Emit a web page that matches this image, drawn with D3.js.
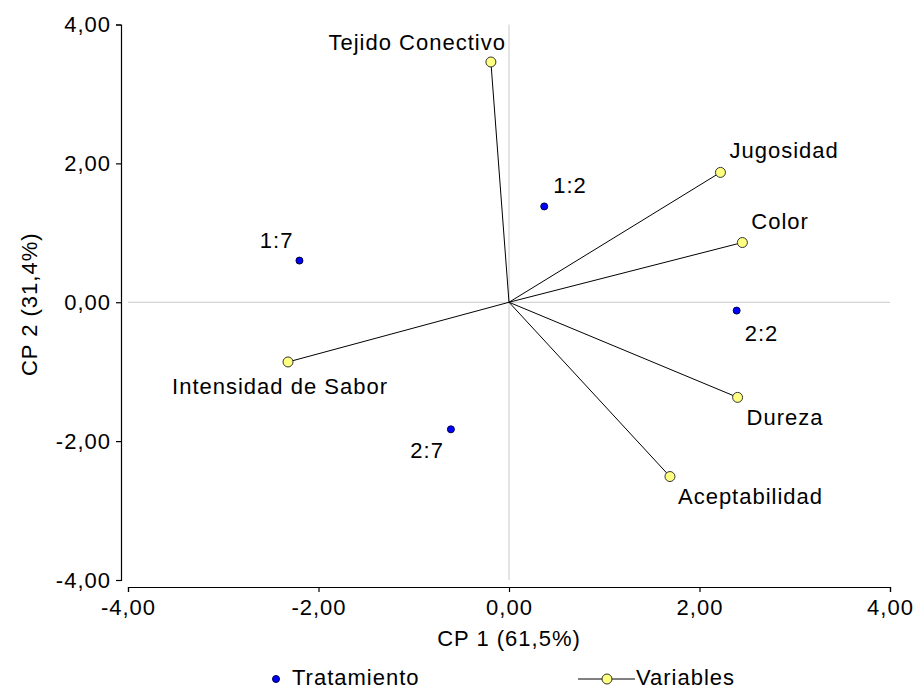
<!DOCTYPE html>
<html>
<head>
<meta charset="utf-8">
<script src="https://cdn.jsdelivr.net/npm/d3@7"></script>
<style>
  html, body { margin: 0; padding: 0; background: #fff; }
  text { font-family: "Liberation Sans", Arial, sans-serif; fill: #000; letter-spacing: 1px; }
</style>
</head>
<body>
<svg id="chart" width="916" height="690"></svg>
<script>
// Biplot: treatment scores and variable loadings on the first two components
const treatments = ["1:2", "1:7", "2:2", "2:7"];
const treatmentCP1 = [0.37, -2.20, 2.39, -0.61];
const treatmentCP2 = [1.38, 0.60, -0.12, -1.83];

const variables = ["Tejido Conectivo", "Jugosidad", "Color", "Dureza", "Aceptabilidad", "Intensidad de Sabor"];
const variableCP1 = [-0.19, 2.22, 2.45, 2.40, 1.69, -2.32];
const variableCP2 = [3.46, 1.87, 0.86, -1.37, -2.51, -0.86];

const tickValues = [-4, -2, 0, 2, 4];
const xTitle = "CP 1 (61,5%)";
const yTitle = "CP 2 (31,4%)";
const legendLabels = ["Tratamiento", "Variables"];

// label placement around each mark: [dx, dy, anchor]
const labelPlace = {
  "1:2": [9, -13, "start"],
  "1:7": [-6, -13, "end"],
  "2:2": [8, 30, "start"],
  "2:7": [-7, 29, "end"],
  "Tejido Conectivo": [15, -12, "end"],
  "Jugosidad": [9, -14, "start"],
  "Color": [9, -14, "start"],
  "Dureza": [9, 28, "start"],
  "Aceptabilidad": [8, 27, "start"],
  "Intensidad de Sabor": [-8, 32, "middle"]
};

const FS = "22px";
const svg = d3.select("#chart");
const x = d3.scaleLinear().domain([-4, 4]).range([128, 890]);
const y = d3.scaleLinear().domain([-4, 4]).range([580, 24.5]);
// decimal comma and a plain hyphen for negatives
const fmt = d => d3.format(".2f")(d).replace(".", ",").replace("\u2212", "-");

// zero reference lines
svg.append("line").attr("x1", x(0)).attr("x2", x(0)).attr("y1", y(4)).attr("y2", y(-4))
  .attr("stroke", "#c8c8c8").attr("stroke-width", 1);
svg.append("line").attr("x1", x(-4)).attr("x2", x(4)).attr("y1", y(0)).attr("y2", y(0))
  .attr("stroke", "#c8c8c8").attr("stroke-width", 1);

// axes
const xAxis = svg.append("g").attr("transform", "translate(0,587)")
  .call(d3.axisBottom(x).tickValues(tickValues).tickFormat(fmt).tickSize(5).tickPadding(7));
const yAxis = svg.append("g").attr("transform", "translate(121,0)")
  .call(d3.axisLeft(y).tickValues(tickValues).tickFormat(fmt).tickSize(5).tickPadding(5));
[xAxis, yAxis].forEach(g => {
  g.selectAll("path, line").attr("stroke", "#000").attr("stroke-width", 1.2);
  g.selectAll("text").style("font-size", FS).attr("fill", "#000");
});

svg.append("text").attr("x", x(0)).attr("y", 646).attr("text-anchor", "middle")
  .style("font-size", FS).text(xTitle);
svg.append("text").attr("transform", `translate(37,${y(0) + 2}) rotate(-90)`).attr("text-anchor", "middle")
  .style("font-size", FS).text(yTitle);

// loading vectors
const vars = variables.map((n, i) => ({ name: n, cx: variableCP1[i], cy: variableCP2[i] }));
svg.append("g").selectAll("line").data(vars).join("line")
  .attr("x1", x(0)).attr("y1", y(0))
  .attr("x2", d => x(d.cx)).attr("y2", d => y(d.cy))
  .attr("stroke", "#000").attr("stroke-width", 1);
svg.append("g").selectAll("circle").data(vars).join("circle")
  .attr("cx", d => x(d.cx)).attr("cy", d => y(d.cy)).attr("r", 5)
  .attr("fill", "#ffff80").attr("stroke", "#333").attr("stroke-width", 1);

// treatment scores
const trts = treatments.map((n, i) => ({ name: n, cx: treatmentCP1[i], cy: treatmentCP2[i] }));
svg.append("g").selectAll("circle").data(trts).join("circle")
  .attr("cx", d => x(d.cx)).attr("cy", d => y(d.cy)).attr("r", 3.5)
  .attr("fill", "#0000ff").attr("stroke", "#000040").attr("stroke-width", 1);

// labels
svg.append("g").selectAll("text").data(vars.concat(trts)).join("text")
  .attr("x", d => x(d.cx) + labelPlace[d.name][0])
  .attr("y", d => y(d.cy) + labelPlace[d.name][1])
  .attr("text-anchor", d => labelPlace[d.name][2])
  .style("font-size", FS).text(d => d.name);

// legend
const lg = svg.append("g");
lg.append("circle").attr("cx", 276).attr("cy", 679).attr("r", 3.5)
  .attr("fill", "#0000ff").attr("stroke", "#000040");
lg.append("text").attr("x", 292).attr("y", 685).style("font-size", FS).text(legendLabels[0]);
lg.append("line").attr("x1", 578).attr("x2", 635).attr("y1", 679).attr("y2", 679)
  .attr("stroke", "#000").attr("stroke-width", 1);
lg.append("circle").attr("cx", 607).attr("cy", 679).attr("r", 5)
  .attr("fill", "#ffff80").attr("stroke", "#333");
lg.append("text").attr("x", 636).attr("y", 685).style("font-size", FS).text(legendLabels[1]);
</script>
</body>
</html>
